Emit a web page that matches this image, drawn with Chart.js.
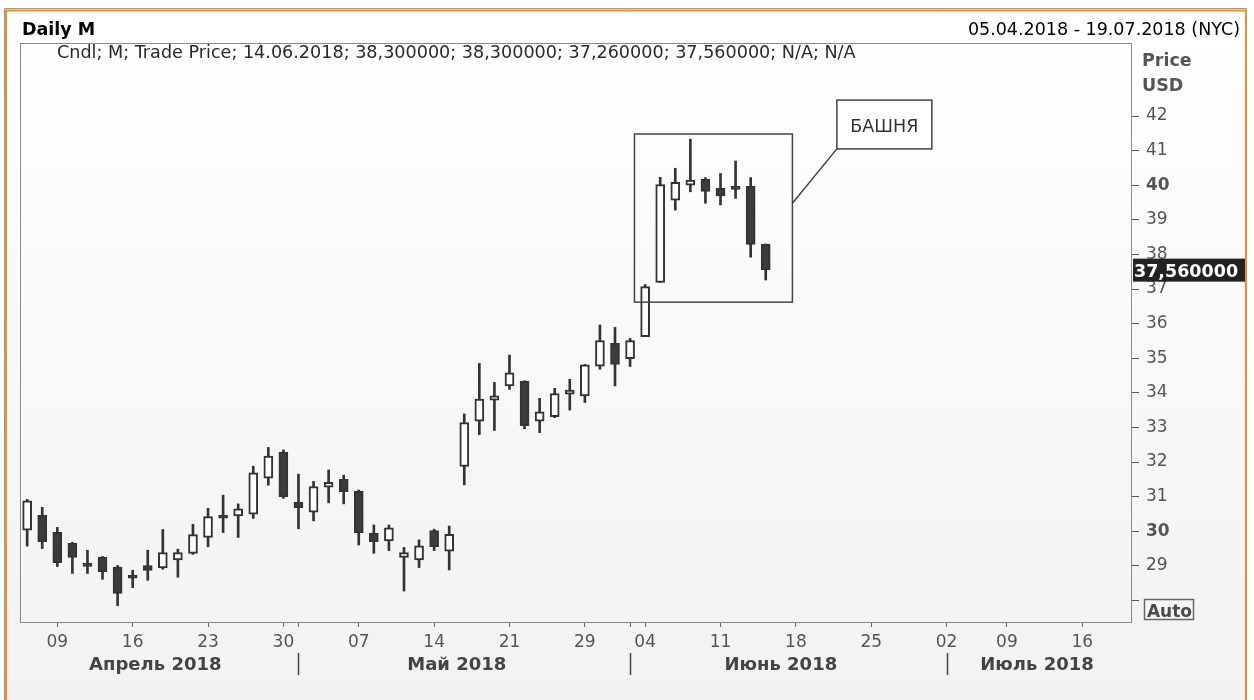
<!DOCTYPE html>
<html>
<head>
<meta charset="utf-8">
<script src="https://cdn.jsdelivr.net/npm/chart.js@4.4.0/dist/chart.umd.min.js"></script>
<style>
  html, body { margin: 0; padding: 0; background: #fff; }
  canvas { display: block; }
</style>
</head>
<body>
<canvas id="chart" width="1254" height="700"></canvas>
<script>
// trading days shown as candles (dd.mm, 2018)
const candleDates = ['05.04','06.04','09.04','10.04','11.04','12.04','13.04','16.04','17.04','18.04',
  '19.04','20.04','23.04','24.04','25.04','26.04','27.04','30.04','01.05','02.05',
  '03.05','04.05','07.05','08.05','09.05','10.05','11.05','14.05','15.05','16.05',
  '17.05','18.05','21.05','22.05','23.05','24.05','25.05','29.05','30.05','31.05',
  '01.06','04.06','05.06','06.06','07.06','08.06','11.06','12.06','13.06','14.06'];
const openP  = [30.03,30.46,29.97,29.65,29.07,29.25,28.96,28.73,29.01,28.94,
  29.17,29.36,29.82,30.46,30.44,30.49,31.53,32.29,30.84,30.55,
  31.27,31.50,31.16,29.94,29.72,29.24,29.17,30.02,29.42,31.87,
  33.18,33.79,34.20,34.33,33.18,33.31,33.96,33.91,34.77,35.43,
  34.99,35.62,37.19,39.57,40.00,40.17,39.91,39.97,39.97,38.30];
const highP  = [30.92,30.69,30.11,29.68,29.45,29.27,29.01,28.87,29.45,30.05,
  29.48,30.20,30.66,31.04,30.79,31.88,32.42,32.35,31.65,31.44,
  31.77,31.62,31.19,30.18,30.18,29.53,29.75,30.06,30.15,33.39,
  34.85,34.30,35.09,34.35,33.84,34.13,34.39,34.82,35.96,35.89,
  35.57,37.13,40.23,40.49,41.33,40.22,40.34,40.70,40.22,38.30];
const lowP   = [29.57,29.50,28.98,28.78,28.78,28.61,27.85,28.37,28.58,28.90,
  28.67,29.33,29.55,29.96,29.82,30.37,31.33,30.95,30.07,30.30,
  30.82,30.79,29.60,29.36,29.44,28.27,28.95,29.44,28.88,31.34,
  32.79,32.91,34.10,32.96,32.85,33.28,33.50,33.72,34.68,34.20,
  34.76,35.62,37.19,39.28,39.81,39.48,39.43,39.62,37.92,37.26];
const closeP = [30.88,29.70,29.09,29.24,28.98,28.83,28.20,28.64,28.87,29.38,
  29.38,29.90,30.42,30.38,30.65,31.69,32.17,31.00,30.68,31.29,
  31.41,31.14,29.96,29.70,30.10,29.38,29.58,29.55,29.91,33.14,
  33.82,33.91,34.58,33.05,33.45,33.98,34.08,34.81,35.51,34.82,
  35.51,37.07,40.02,40.08,40.15,39.82,39.69,39.88,38.29,37.56];
const holidays = ['2018-05-28', '2018-07-04'];
const yTicks = [28, 29, 30, 31, 32, 33, 34, 35, 36, 37, 38, 39, 40, 41, 42];
const monthNames = ['Январь','Февраль','Март','Апрель','Май','Июнь','Июль','Август'];

const FONT = "'DejaVu Sans', Verdana, sans-serif";
const pad2 = n => String(n).padStart(2, '0');

// axis slots: every trading day from 05.04 to 19.07
const slots = [];
for (let d = new Date(Date.UTC(2018, 3, 5)); d <= Date.UTC(2018, 6, 19); d.setUTCDate(d.getUTCDate() + 1)) {
  const wd = d.getUTCDay();
  if (wd === 0 || wd === 6 || holidays.includes(d.toISOString().slice(0, 10))) continue;
  slots.push(new Date(d));
}
const slotKeys = slots.map(d => pad2(d.getUTCDate()) + '.' + pad2(d.getUTCMonth() + 1));

const weekStarts = [], monthStarts = [];
for (let i = 1; i < slots.length; i++) {
  if (slots[i].getUTCDay() < slots[i - 1].getUTCDay()) weekStarts.push(i);
  if (slots[i].getUTCMonth() !== slots[i - 1].getUTCMonth()) monthStarts.push(i);
}
const xTickIdx = [...new Set([...weekStarts, ...monthStarts])].sort((a, b) => a - b);

const bodies = candleDates.map((d, i) => ({ x: slotKeys.indexOf(d), y: [openP[i], closeP[i]] }));
const wicks = candleDates.map((d, i) => ({ x: slotKeys.indexOf(d), y: [lowP[i], highP[i]] }));
const isUp = i => closeP[i] >= openP[i];

// box drawn round the last candles, in data units
const tower = { x0: 40.29, x1: 50.77, y0: 41.48, y1: 36.62 };
const towerLabel = { text: 'БАШНЯ', x0: 53.72, x1: 60.02, y0: 42.46, y1: 41.05, lineY: 39.48 };

const fmt = v => v.toFixed(6).replace('.', ',');
const last = candleDates.length - 1;

const decor = {
  id: 'decor',
  beforeDraw(chart) {
    const c = chart.ctx;
    c.save();
    c.fillStyle = '#fff';
    c.fillRect(0, 0, chart.width, chart.height);
    const g = c.createLinearGradient(0, 10, 0, 700);
    g.addColorStop(0, '#ffffff');
    g.addColorStop(1, '#f2f2f2');
    c.fillStyle = g;
    c.fillRect(6, 10, 1241, 690);
    c.restore();
  },
  afterDraw(chart) {
    const c = chart.ctx;
    const xs = chart.scales.x, ys = chart.scales.y;
    const a = chart.chartArea;
    c.save();
    // outer frame
    c.strokeStyle = '#9a9a9a';
    c.lineWidth = 1;
    c.beginPath();
    c.moveTo(4.5, 700); c.lineTo(4.5, 8.5); c.lineTo(1247, 8.5);
    c.stroke();
    c.strokeStyle = '#f68b1f';
    c.lineWidth = 2;
    c.strokeRect(6, 10.5, 1240, 720);
    // plot border
    c.strokeStyle = '#8a8a8a';
    c.lineWidth = 1;
    c.strokeRect(a.left + 0.5, a.top + 0.5, a.right - a.left - 1, a.bottom - a.top);

    // header
    c.fillStyle = '#000';
    c.font = 'bold 17.5px ' + FONT;
    c.textAlign = 'left';
    c.fillText('Daily M', 22, 35);
    c.font = '17.5px ' + FONT;
    c.textAlign = 'right';
    const d0 = slots[0], d1 = slots[slots.length - 1];
    const full = d => pad2(d.getUTCDate()) + '.' + pad2(d.getUTCMonth() + 1) + '.' + d.getUTCFullYear();
    c.fillText(full(d0) + ' - ' + full(d1) + ' (NYC)', 1240, 35);

    c.textAlign = 'left';
    c.fillStyle = '#2a2a2a';
    c.font = '17.6px ' + FONT;
    c.fillText('Cndl; M; Trade Price; ' + candleDates[last] + '.2018; ' + fmt(openP[last]) + '; ' + fmt(highP[last]) +
      '; ' + fmt(lowP[last]) + '; ' + fmt(closeP[last]) + '; N/A; N/A', 57, 58);

    // axis title
    c.fillStyle = '#555';
    c.font = 'bold 17.5px ' + FONT;
    c.fillText('Price', 1142, 66);
    c.fillText('USD', 1142, 91);

    // annotation
    c.strokeStyle = '#444';
    c.lineWidth = 1.5;
    const rx0 = xs.getPixelForValue(tower.x0), rx1 = xs.getPixelForValue(tower.x1);
    const ry0 = ys.getPixelForValue(tower.y0), ry1 = ys.getPixelForValue(tower.y1);
    c.strokeRect(rx0, ry0, rx1 - rx0, ry1 - ry0);
    const lx0 = xs.getPixelForValue(towerLabel.x0), lx1 = xs.getPixelForValue(towerLabel.x1);
    const ly0 = ys.getPixelForValue(towerLabel.y0), ly1 = ys.getPixelForValue(towerLabel.y1);
    c.beginPath();
    c.moveTo(lx0, ly1);
    c.lineTo(rx1, ys.getPixelForValue(towerLabel.lineY));
    c.stroke();
    c.fillStyle = '#fff';
    c.fillRect(lx0, ly0, lx1 - lx0, ly1 - ly0);
    c.strokeRect(lx0, ly0, lx1 - lx0, ly1 - ly0);
    c.fillStyle = '#333';
    c.font = '17.5px ' + FONT;
    c.textAlign = 'center';
    c.fillText(towerLabel.text, (lx0 + lx1) / 2, ly0 + 31.5);

    // last price tag
    const py = ys.getPixelForValue(closeP[last]);
    c.fillStyle = '#222';
    c.fillRect(1133, py - 11, 112, 23);
    c.fillStyle = '#fff';
    c.font = 'bold 17.5px ' + FONT;
    c.textAlign = 'left';
    c.fillText(fmt(closeP[last]), 1134, py + 7);

    // Auto box
    c.fillStyle = '#f6f6f6';
    c.fillRect(1144, 599, 50, 21);
    c.strokeStyle = '#666';
    c.lineWidth = 1.5;
    c.strokeRect(1144.5, 599.5, 49, 20);
    c.fillStyle = '#4a4a4a';
    c.font = 'bold 17px ' + FONT;
    c.textAlign = 'center';
    c.fillText('Auto', 1169.5, 617);

    // month row
    c.fillStyle = '#444';
    c.strokeStyle = '#444';
    c.lineWidth = 1.5;
    c.font = 'bold 18px ' + FONT;
    const bounds = [0, ...monthStarts, slots.length];
    for (let m = 0; m < bounds.length - 1; m++) {
      const mid = (bounds[m] + bounds[m + 1] - 1) / 2;
      const d = slots[bounds[m]];
      c.fillText(monthNames[d.getUTCMonth()] + ' ' + d.getUTCFullYear(), xs.getPixelForValue(mid), 670);
      if (m > 0) {
        const sx = Math.round(xs.getPixelForValue(bounds[m])) + 0.5;
        c.beginPath();
        c.moveTo(sx, 653); c.lineTo(sx, 675);
        c.stroke();
      }
    }
    c.restore();
  }
};

const ctx = document.getElementById('chart').getContext('2d');
const chart = new Chart(ctx, {
  type: 'bar',
  data: {
    datasets: [
      {
        label: 'body',
        data: bodies,
        grouped: false,
        barThickness: 9,
        borderWidth: 2,
        borderSkipped: false,
        borderColor: '#333',
        backgroundColor: c => isUp(c.dataIndex) ? '#ffffff' : '#3c3c3c',
        order: 0,
      },
      {
        label: 'wick',
        data: wicks,
        grouped: false,
        barThickness: 2,
        backgroundColor: '#333',
        order: 1,
      }
    ]
  },
  options: {
    responsive: false,
    animation: false,
    devicePixelRatio: 1,
    layout: { padding: { left: 20, top: 43, right: 0, bottom: 0 } },
    plugins: { legend: { display: false }, tooltip: { enabled: false } },
    scales: {
      x: {
        type: 'linear',
        min: -0.475,
        max: 73.3,
        offset: false,
        border: { display: false },
        grid: { drawOnChartArea: false, offset: false, tickLength: 5, tickColor: '#666' },
        afterBuildTicks: s => { s.ticks = xTickIdx.map(v => ({ value: v })); },
        afterFit: s => { s.height = 78; },
        ticks: {
          autoSkip: false,
          maxRotation: 0,
          padding: 5,
          color: '#555',
          font: { family: FONT, size: 17 },
          callback: v => weekStarts.includes(v) ? pad2(slots[v].getUTCDate()) : '',
        },
      },
      y: {
        position: 'right',
        min: 27.376,
        max: 44.11,
        border: { display: false },
        grid: { drawOnChartArea: false, tickLength: 7, tickColor: '#555' },
        afterBuildTicks: s => { s.ticks = yTicks.map(v => ({ value: v })); },
        afterFit: s => { s.width = 122; },
        ticks: {
          autoSkip: false,
          padding: 7,
          color: '#555',
          font: c => ({ family: FONT, size: 17, weight: c.tick && c.tick.value % 10 === 0 ? 'bold' : 'normal' }),
          callback: v => v === 28 ? '' : String(v),
        },
      },
    },
  },
  plugins: [decor],
});
</script>
</body>
</html>
